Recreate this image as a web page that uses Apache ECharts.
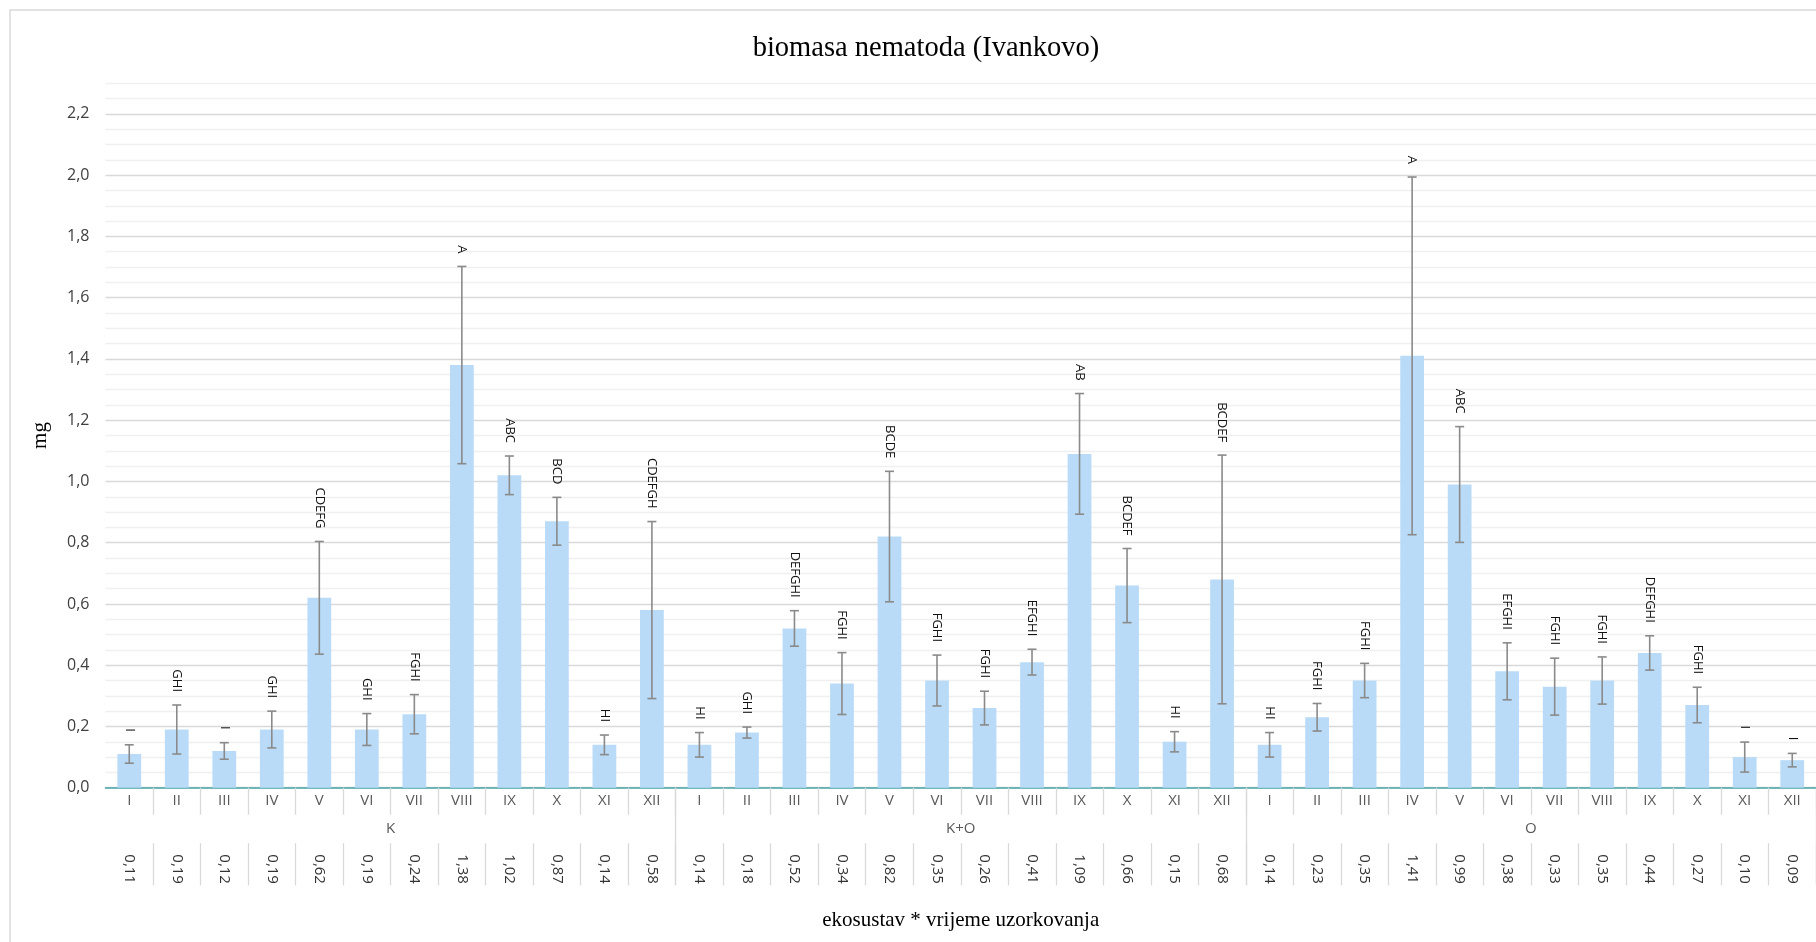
<!DOCTYPE html>
<html>
<head>
<meta charset="utf-8">
<script src="https://cdn.jsdelivr.net/npm/echarts@6/dist/echarts.min.js"></script>
<style>
html,body{margin:0;padding:0;background:#fff;}
#chart{width:1816px;height:942px;}
</style>
</head>
<body>
<div id="chart"></div>
<script>
// ---- data ----
const groups = ['K', 'K+O', 'O'];
const months = ['I','II','III','IV','V','VI','VII','VIII','IX','X','XI','XII'];
const meansK  = [0.11,0.19,0.12,0.19,0.62,0.19,0.24,1.38,1.02,0.87,0.14,0.58];
const meansKO = [0.14,0.18,0.52,0.34,0.82,0.35,0.26,0.41,1.09,0.66,0.15,0.68];
const meansO  = [0.14,0.23,0.35,1.41,0.99,0.38,0.33,0.35,0.44,0.27,0.10,0.09];
const errK  = [0.030,0.080,0.027,0.060,0.184,0.052,0.064,0.322,0.063,0.078,0.032,0.289];
const errKO = [0.040,0.018,0.058,0.101,0.213,0.083,0.055,0.042,0.197,0.121,0.033,0.406];
const errO  = [0.040,0.045,0.056,0.584,0.189,0.093,0.093,0.077,0.056,0.058,0.049,0.022];
const lettersK  = ['I','GHI','I','GHI','CDEFG','GHI','FGHI','A','ABC','BCD','HI','CDEFGH'];
const lettersKO = ['HI','GHI','DEFGHI','FGHI','BCDE','FGHI','FGHI','EFGHI','AB','BCDEF','HI','BCDEF'];
const lettersO  = ['HI','FGHI','FGHI','A','ABC','EFGHI','FGHI','FGHI','DEFGHI','FGHI','I','I'];
const yTicksMajor = 0.2;

// ---- derived ----
const categories = [].concat(months, months, months);
const means = [].concat(meansK, meansKO, meansO);
const errs = [].concat(errK, errKO, errO);
const letters = [].concat(lettersK, lettersKO, lettersO);
const valueLabels = means.map(v => v.toFixed(2).replace('.', ','));

const sans = "'Open Sans', 'Noto Sans', sans-serif";
const serif = "'Liberation Serif', 'DejaVu Serif', serif";

const chart = echarts.init(document.getElementById('chart'));
chart.setOption({
  animation: false,
  backgroundColor: '#fff',
  graphic: [{
    type: 'rect', silent: true, z: -10,
    shape: { x: 10, y: 10, width: 2400, height: 2400 },
    style: { fill: 'none', stroke: '#d9d9d9', lineWidth: 1.5 }
  }],
  title: {
    text: 'biomasa nematoda (Ivankovo)',
    left: 921, top: 29, textAlign: 'center',
    textStyle: { fontFamily: serif, fontSize: 28.5, fontWeight: 'normal', color: '#000' }
  },
  grid: { left: 105.5, right: 0, top: 83.3, bottom: 154.3, containLabel: false },
  xAxis: [
    {
      type: 'category', data: categories, position: 'bottom',
      axisLine: { show: true, lineStyle: { color: '#45a5a8', width: 1.6 } },
      axisTick: { show: true, length: 27, interval: (i) => i !== 0, lineStyle: { color: '#d9d9d9', width: 1.3 } },
      axisLabel: { interval: 0, margin: 6, fontFamily: sans, fontSize: 15, color: '#595959' },
      name: 'ekosustav * vrijeme uzorkovanja', nameLocation: 'middle', nameGap: 122,
      nameTextStyle: { fontFamily: serif, fontSize: 21, color: '#000' }
    },
    {
      type: 'category', data: groups, position: 'bottom', offset: 0,
      axisLine: { show: false },
      axisTick: { show: true, length: 97, interval: (i) => i !== 0, lineStyle: { color: '#d9d9d9', width: 1.3 } },
      axisLabel: { interval: 0, margin: 34, fontFamily: sans, fontSize: 15, color: '#595959' }
    },
    {
      type: 'category', data: valueLabels, position: 'bottom', offset: 55.6,
      axisLine: { show: false },
      axisTick: { show: true, length: 42, interval: (i) => i !== 0, lineStyle: { color: '#d9d9d9', width: 1.3 } },
      axisLabel: { interval: 0, rotate: -90, margin: 11, fontFamily: sans, fontSize: 15, color: '#333' }
    }
  ],
  yAxis: {
    type: 'value', min: 0, max: 2.3, interval: 0.05,
    axisLine: { show: false }, axisTick: { show: false },
    axisLabel: {
      margin: 16, fontFamily: sans, fontSize: 16, color: '#404040',
      formatter: (v) => {
        const r = v / yTicksMajor;
        return Math.abs(r - Math.round(r)) < 1e-6 ? v.toFixed(1).replace('.', ',') : '';
      }
    },
    splitLine: { show: true, lineStyle: { color: ['#d9d9d9', '#f0f0f0', '#f0f0f0', '#f0f0f0'], width: 1.4 } },
    name: 'mg', nameLocation: 'middle', nameGap: 55, nameRotate: 90,
    nameTextStyle: { fontFamily: serif, fontSize: 21, color: '#000' }
  },
  series: [
    {
      type: 'bar', data: means, barWidth: '50%', xAxisIndex: 0,
      itemStyle: { color: '#b9dbf7' }
    },
    {
      type: 'custom', xAxisIndex: 0, z: 5,
      data: means.map((m, i) => [i, m, errs[i]]),
      encode: { x: 0, y: 1 },
      renderItem: function (params, api) {
        const i = api.value(0), m = api.value(1), e = api.value(2);
        const top = api.coord([i, m + e]);
        const bot = api.coord([i, m - e]);
        const hw = 4.5;
        const st = { stroke: '#8a8a8a', lineWidth: 1.6 };
        return {
          type: 'group',
          children: [
            { type: 'line', shape: { x1: top[0], y1: top[1], x2: bot[0], y2: bot[1] }, style: st },
            { type: 'line', shape: { x1: top[0] - hw, y1: top[1], x2: top[0] + hw, y2: top[1] }, style: st },
            { type: 'line', shape: { x1: bot[0] - hw, y1: bot[1], x2: bot[0] + hw, y2: bot[1] }, style: st },
            {
              type: 'text', x: top[0], y: top[1] - 13, rotation: -Math.PI / 2,
              style: {
                text: letters[params.dataIndex], align: 'right', verticalAlign: 'middle',
                textAlign: 'right', textVerticalAlign: 'middle',
                fontFamily: sans, fontSize: 13, fill: '#111'
              }
            }
          ]
        };
      }
    }
  ]
});
</script>
</body>
</html>
